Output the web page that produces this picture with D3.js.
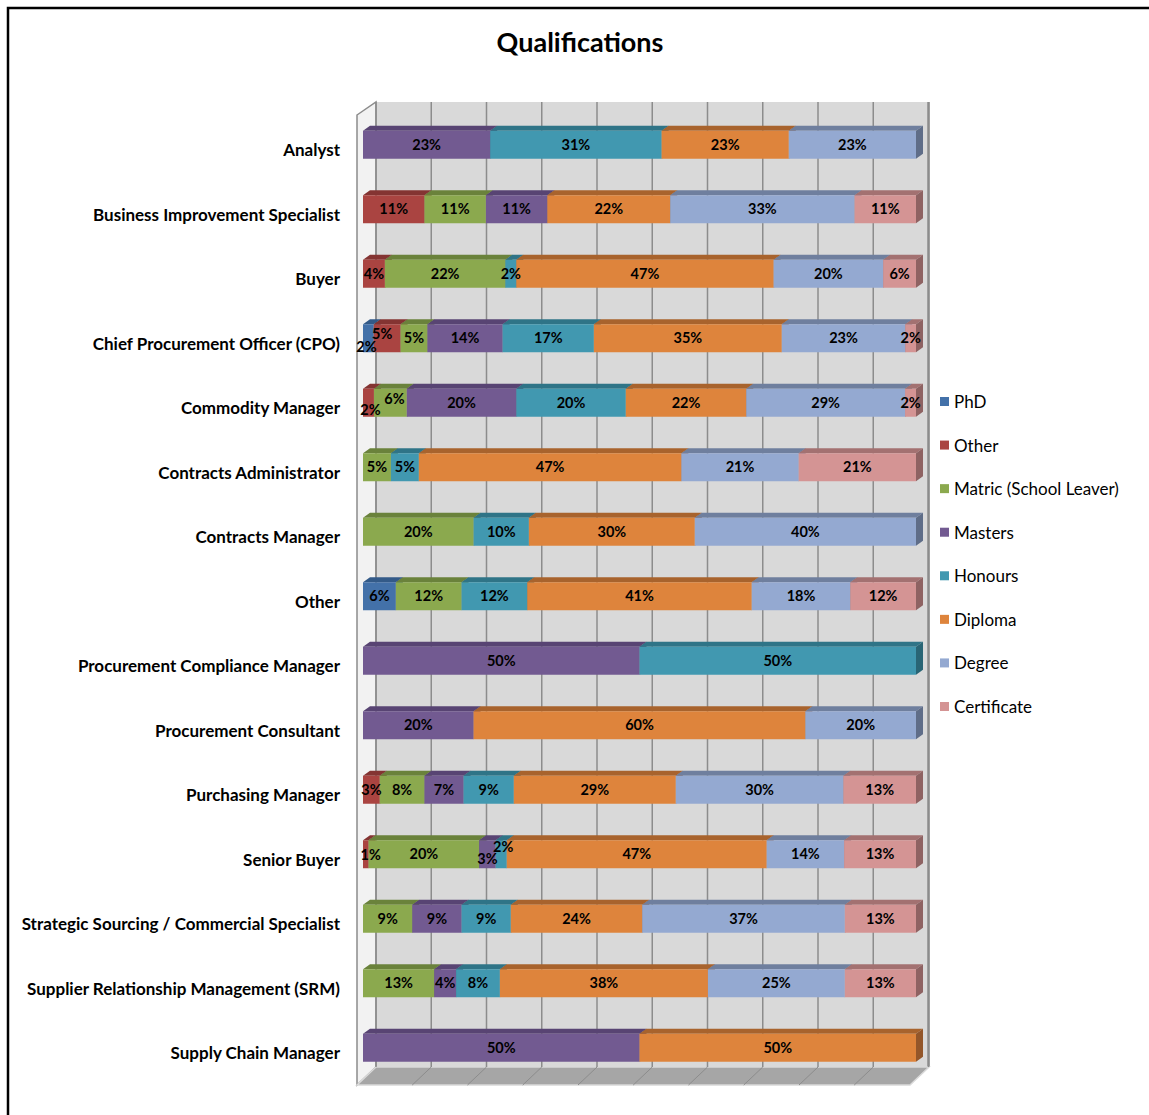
<!DOCTYPE html>
<html>
<head>
<meta charset="utf-8">
<script src="https://cdnjs.cloudflare.com/ajax/libs/d3/7.8.5/d3.min.js"></script>
<style>
  body { margin: 0; background: #fff; }
  text { font-family: Lato, "Open Sans", sans-serif; }
  .catLabel { font-weight: bold; font-size: 17px; fill: #000; }
  .barLabel { font-weight: bold; font-size: 14.5px; fill: #000; }
  .legendText { font-size: 17px; fill: #000; }
</style>
</head>
<body>
<div id="chart"></div>
<script>
// Data
var categories = [
  "Analyst",
  "Business Improvement Specialist",
  "Buyer",
  "Chief Procurement Officer (CPO)",
  "Commodity Manager",
  "Contracts Administrator",
  "Contracts Manager",
  "Other",
  "Procurement Compliance Manager",
  "Procurement Consultant",
  "Purchasing Manager",
  "Senior Buyer",
  "Strategic Sourcing / Commercial Specialist",
  "Supplier Relationship Management (SRM)",
  "Supply Chain Manager"
];
var seriesNames = ["PhD", "Other", "Matric (School Leaver)", "Masters", "Honours", "Diploma", "Degree", "Certificate"];

var phd         = [0, 0, 0, 2, 0, 0, 0, 6, 0, 0, 0, 0, 0, 0, 0];
var other       = [0, 11, 4, 5, 2, 0, 0, 0, 0, 0, 3, 1, 0, 0, 0];
var matric      = [0, 11, 22, 5, 6, 5, 20, 12, 0, 0, 8, 20, 9, 13, 0];
var masters     = [23, 11, 0, 14, 20, 0, 0, 0, 50, 20, 7, 3, 9, 4, 50];
var honours     = [31, 0, 2, 17, 20, 5, 10, 12, 50, 0, 9, 2, 9, 8, 0];
var diploma     = [23, 22, 47, 35, 22, 47, 30, 41, 0, 60, 29, 47, 24, 38, 50];
var degree      = [23, 33, 20, 23, 29, 21, 40, 18, 0, 20, 30, 14, 37, 25, 0];
var certificate = [0, 11, 6, 2, 2, 21, 0, 12, 0, 0, 13, 13, 13, 13, 0];

var seriesValues = [phd, other, matric, masters, honours, diploma, degree, certificate];

// colours: front face / top face / side face
var frontColors = ["#4371a9", "#aa4441", "#8ba94e", "#725a91", "#4198b0", "#de843c", "#94a9d1", "#d49494"];
var topColors   = ["#335a88", "#843432", "#6a823b", "#584473", "#2f7487", "#a8632d", "#6f7f9e", "#a37171"];
var sideColors  = ["#2c4e77", "#732c2b", "#5b7033", "#4b3b63", "#296575", "#93562a", "#5f6d88", "#8e6262"];

// label nudges for crowded small segments [category, series, dx, dy]
var nudges = [
  ["Chief Procurement Officer (CPO)", "PhD", -2, 9],
  ["Chief Procurement Officer (CPO)", "Other", -5, -4],
  ["Commodity Manager", "Other", 2, 7],
  ["Commodity Manager", "Matric (School Leaver)", 4, -4],
  ["Senior Buyer", "Other", 5, 1],
  ["Senior Buyer", "Masters", 0, 5],
  ["Senior Buyer", "Honours", 2, -7]
];

var width = 1149;
var height = 1115;
var depthX = 7;
var depthY = 5;

var svg = d3.select("#chart")
  .append("svg")
  .attr("width", width)
  .attr("height", height);

// outer frame
svg.append("rect")
  .attr("x", 8).attr("y", 8)
  .attr("width", 1160).attr("height", 1130)
  .attr("fill", "none")
  .attr("stroke", "#000")
  .attr("stroke-width", 2.5);

// Title
svg.append("text")
  .attr("x", 580)
  .attr("y", 52)
  .attr("text-anchor", "middle")
  .style("font-weight", "bold")
  .style("font-size", "27px")
  .text("Qualifications");

// build table for stack
var table = categories.map(function(c, i) {
  var row = { category: c };
  seriesNames.forEach(function(s, j) { row[s] = seriesValues[j][i]; });
  return row;
});

var stack = d3.stack().keys(seriesNames).offset(d3.stackOffsetExpand);
var stacked = stack(table);

// Scales
var xScale = d3.scaleLinear().domain([0, 1]).range([363, 916]);
var yScale = d3.scaleBand()
  .domain(categories)
  .range([112.5, 1080])
  .paddingInner(0.566)
  .paddingOuter(0.283);

// 3D walls
var wallOffX = 13;
var wallTop = 102;
var floorBack = 1067;
var floorFront = 1085;
var floorDX = 19;
var wallLeft = xScale(0) + wallOffX;
var wallRight = xScale(1) + 12;

var walls = svg.append("g").attr("class", "walls");

// back wall
walls.append("rect")
  .attr("x", wallLeft).attr("y", wallTop)
  .attr("width", wallRight - wallLeft).attr("height", floorBack - wallTop)
  .attr("fill", "#d9d9d9");
// right edge shading
walls.append("rect")
  .attr("x", wallRight - 1).attr("y", wallTop)
  .attr("width", 3).attr("height", floorBack - wallTop)
  .attr("fill", "#a6a6a6");

// left wall (seen edge on)
walls.append("path")
  .attr("d", "M" + (wallLeft - floorDX) + "," + (wallTop + 13) +
    "L" + wallLeft + "," + wallTop +
    "L" + wallLeft + "," + floorBack +
    "L" + (wallLeft - floorDX) + "," + floorFront + "Z")
  .attr("fill", "#f2f2f2")
  .attr("stroke", "#8c8c8c")
  .attr("stroke-width", 1.5);

// floor
walls.append("path")
  .attr("d", "M" + wallLeft + "," + floorBack +
    "L" + (wallRight + 1) + "," + floorBack +
    "L" + (wallRight + 1 - floorDX) + "," + floorFront +
    "L" + (wallLeft - floorDX) + "," + floorFront + "Z")
  .attr("fill", "#a6a6a6")
  .attr("stroke", "#d9d9d9")
  .attr("stroke-width", 1.5);

// gridlines on back wall and floor
var ticks = d3.range(0, 1.0001, 0.1);
walls.selectAll(".grid")
  .data(ticks)
  .enter()
  .append("line")
  .attr("class", "grid")
  .attr("x1", function(d) { return xScale(d) + wallOffX - 0.5 * d; })
  .attr("x2", function(d) { return xScale(d) + wallOffX - 0.5 * d; })
  .attr("y1", wallTop)
  .attr("y2", floorBack)
  .attr("stroke", "#8c8c8c")
  .attr("stroke-width", 1.5);

walls.selectAll(".floorGrid")
  .data(ticks.slice(1, 10))
  .enter()
  .append("line")
  .attr("class", "floorGrid")
  .attr("x1", function(d) { return xScale(d) + wallOffX - 0.5 * d; })
  .attr("x2", function(d) { return xScale(d) + wallOffX - 0.5 * d - floorDX; })
  .attr("y1", floorBack)
  .attr("y2", floorFront)
  .attr("stroke", "#8c8c8c")
  .attr("stroke-width", 1);

// Bars
var bars = svg.append("g").attr("class", "bars");
var bh = yScale.bandwidth();

categories.forEach(function(c, i) {
  var y0 = yScale(c);
  stacked.forEach(function(layer, j) {
    var d = layer[i];
    if (d[1] - d[0] <= 0) return;
    var xa = xScale(d[0]);
    var xb = xScale(d[1]);
    // top face
    bars.append("path")
      .attr("d", "M" + xa + "," + y0 + "L" + (xa + depthX) + "," + (y0 - depthY) +
        "L" + (xb + depthX) + "," + (y0 - depthY) + "L" + xb + "," + y0 + "Z")
      .attr("fill", topColors[j]);
    // side face
    bars.append("path")
      .attr("d", "M" + xb + "," + y0 + "L" + (xb + depthX) + "," + (y0 - depthY) +
        "L" + (xb + depthX) + "," + (y0 + bh - depthY) + "L" + xb + "," + (y0 + bh) + "Z")
      .attr("fill", sideColors[j]);
    // front face
    bars.append("rect")
      .attr("x", xa).attr("y", y0)
      .attr("width", xb - xa).attr("height", bh)
      .attr("fill", frontColors[j]);
  });
});

// Bar labels
var labels = svg.append("g").attr("class", "labels");
categories.forEach(function(c, i) {
  var yc = yScale(c) + bh / 2;
  stacked.forEach(function(layer, j) {
    var d = layer[i];
    var v = seriesValues[j][i];
    if (!v) return;
    var dx = 0, dy = 0;
    nudges.forEach(function(n) {
      if (n[0] === c && n[1] === seriesNames[j]) { dx = n[2]; dy = n[3]; }
    });
    labels.append("text")
      .attr("class", "barLabel")
      .attr("x", xScale((d[0] + d[1]) / 2) + dx)
      .attr("y", yc + dy)
      .attr("dy", "0.35em")
      .attr("text-anchor", "middle")
      .text(v + "%");
  });
});

// Category axis
var yAxis = d3.axisLeft(yScale).tickSize(0).tickPadding(0);
var axisG = svg.append("g")
  .attr("transform", "translate(340,6)")
  .call(yAxis);
axisG.select(".domain").remove();
axisG.selectAll("text")
  .attr("class", "catLabel")
  .attr("font-family", null)
  .attr("font-size", null);

// Legend
var legend = svg.append("g").attr("class", "legend");
var legendY = d3.scalePoint().domain(seriesNames).range([402, 707]);
seriesNames.forEach(function(s, j) {
  legend.append("rect")
    .attr("x", 940).attr("y", legendY(s) - 5)
    .attr("width", 9).attr("height", 9)
    .attr("fill", frontColors[j]);
  legend.append("text")
    .attr("class", "legendText")
    .attr("x", 954)
    .attr("y", legendY(s))
    .attr("dy", "0.35em")
    .text(s);
});
</script>
</body>
</html>
